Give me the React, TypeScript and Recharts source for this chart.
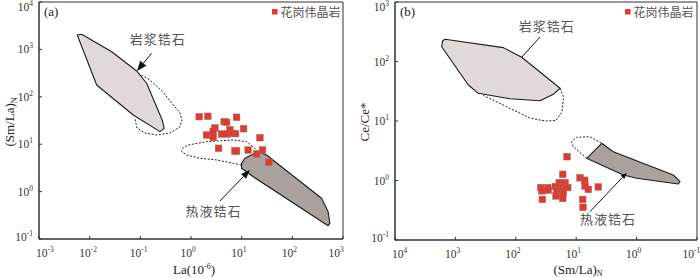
import React from 'react';
import { ScatterChart, Scatter, XAxis, YAxis, ReferenceArea, Label, Customized } from 'recharts';

const SERIF = "'Liberation Serif', 'Times New Roman', serif";
const CJK = "'Noto Sans CJK SC', 'Noto Sans CJK JP', sans-serif";
const RED = '#e23a2f';

// tick values
const laTicks = [0.001, 0.01, 0.1, 1, 10, 100, 1000];
const smLaTicksA = [0.1, 1, 10, 100, 1000, 10000];
const smLaTicksB = [0.1, 1, 10, 100, 1000, 10000];
const ceTicks = [0.1, 1, 10, 100, 1000];

const legendName = '花岗伟晶岩';

// (a) La (ppm) vs (Sm/La)N
const pegmatiteA: [number, number][] = [
  [1.45, 38.0], [2.15, 38.8], [7.93, 37.0], [4.52, 29.9], [5.04, 29.0],
  [2.96, 22.0], [2.74, 18.7], [10.9, 21.2], [5.85, 20.2], [2.03, 15.6],
  [2.74, 14.0], [4.02, 16.4], [5.18, 16.4], [6.41, 17.0], [7.59, 16.7],
  [22.9, 13.7], [3.5, 8.2], [7.35, 7.19], [7.93, 7.19], [13.4, 7.55],
  [25.8, 7.55], [19.7, 6.21], [34.4, 4.15],
];
const magmaticFieldA: [number, number][] = [
  [0.00569, 2014], [0.00695, 2084], [0.0272, 893], [0.0845, 350], [0.133, 193],
  [0.27, 32.4], [0.296, 21.6], [0.244, 18.4], [0.0724, 41.3], [0.01374, 177],
];
const magmaticDashA: [number, number][] = [
  [0.091, 313], [0.155, 226], [0.279, 126], [0.42, 74], [0.604, 45.5], [0.662, 32.4],
  [0.604, 23.1], [0.384, 17.2], [0.212, 15.6], [0.123, 17.2], [0.0857, 22.0], [0.078, 35.7],
];
const hydroFieldA: [number, number][] = [
  [9.95, 3.95], [11.6, 5.05], [21.1, 6.95], [31.0, 5.92], [377, 0.723],
  [508, 0.377], [550, 0.214], [508, 0.191], [16.9, 2.06], [9.95, 3.1],
];
const hydroDashA: [number, number][] = [
  [9.95, 3.64], [3.2, 4.65], [1.5, 5.05], [0.818, 5.92], [0.653, 6.95], [0.682, 8.18],
  [0.881, 9.62], [2.03, 11.3], [6.79, 12.3], [12.5, 11.3], [16.9, 8.85], [21.1, 6.95],
];
const magmaticArrowA: [number, number][] = [[0.167, 828], [0.0857, 350]];
const hydroArrowA: [number, number][] = [[3.72, 0.634], [14.5, 2.86]];
const labelsA = [
  { x: 0.222, y: 1738, text: '岩浆锆石' },
  { x: 2.77, y: 0.409, text: '热液锆石' },
];

// (b) (Sm/La)N vs Ce/Ce*
const pegmatiteB: [number, number][] = [
  [14.2, 2.51], [16.7, 1.27], [8.65, 1.11], [7.23, 1.01], [7.14, 0.81],
  [6.31, 0.71], [4.31, 0.78], [38.7, 0.76], [29.6, 0.76], [37.2, 0.67],
  [29.0, 0.69], [22.2, 0.79], [19.1, 0.92], [15.3, 0.92], [18.5, 0.79],
  [16.4, 0.79], [13.8, 0.76], [21.0, 0.67], [17.4, 0.69], [16.4, 0.61],
  [21.6, 0.55], [16.7, 0.5], [36.4, 0.48], [7.8, 0.48], [7.71, 0.355],
];
const magmaticFieldB: [number, number][] = [
  [1486, 236], [161, 171], [79.8, 118], [18.5, 35.5], [23.9, 28.1], [39.7, 21.9],
  [125, 23.7], [418, 29.2], [611, 40.3], [1687, 177], [1622, 224],
];
const magmaticDashB: [number, number][] = [
  [18.5, 35.5], [16.2, 25.3], [17.2, 14.2], [21.6, 10.2], [32.9, 10.0],
  [58.2, 11.2], [125, 16.3], [221, 21.7], [345, 26.9],
];
const hydroFieldB: [number, number][] = [
  [6.7, 2.36], [3.78, 4.22], [2.43, 3.05], [0.247, 1.24], [0.191, 0.955],
  [0.204, 0.873], [0.995, 1.09], [1.66, 1.24],
];
const hydroDashB: [number, number][] = [
  [6.7, 2.36], [11.2, 3.7], [11.9, 4.49], [9.82, 5.32], [5.92, 5.45], [3.78, 4.22],
];
const magmaticArrowB: [number, number][] = [[39.7, 258], [79.8, 118]];
const hydroArrowB: [number, number][] = [[5.92, 0.299], [1.46, 1.34]];
const labelsB = [
  { x: 30.8, y: 400, text: '岩浆锆石' },
  { x: 2.98, y: 0.234, text: '热液锆石' },
];

const xy = (arr: [number, number][]) => arr.map(([x, y]) => ({ x, y }));

const pathOf = (pts: any[], close: boolean) =>
  pts.map((p, i) => `${i === 0 ? 'M' : 'L'}${p.x},${p.y}`).join(' ') + (close ? ' Z' : '');

const fieldLine = (fill: string) => (p: any) => (
  <path d={pathOf(p.points, true)} fill={fill} stroke="#1c1c1c" strokeWidth={1.1} strokeLinejoin="round" />
);

const dashLine = (p: any) => (
  <path d={pathOf(p.points, false)} fill="none" stroke="#222" strokeWidth={1} strokeDasharray="2 1.6" />
);

const arrowLine = (hl: number, hw: number) => (p: any) => {
  const [a, b] = p.points;
  const dx = b.x - a.x;
  const dy = b.y - a.y;
  const len = Math.hypot(dx, dy) || 1;
  const ux = dx / len;
  const uy = dy / len;
  const bx = b.x - ux * hl;
  const by = b.y - uy * hl;
  return (
    <g>
      <line x1={a.x} y1={a.y} x2={hl ? bx : b.x} y2={hl ? by : b.y} stroke="#111" strokeWidth={1} />
      {hl > 0 && (
        <polygon
          points={`${b.x},${b.y} ${bx - uy * hw},${by + ux * hw} ${bx + uy * hw},${by - ux * hw}`}
          fill="#111"
        />
      )}
    </g>
  );
};

const hidden = () => <g />;

const square = (p: any) => (
  <rect x={p.cx - 3.3} y={p.cy - 3.3} width={6.6} height={6.6} fill={RED} stroke="#9b6b68" strokeWidth={0.5} />
);

const fieldLabel = (p: any) => (
  <text
    x={p.cx}
    y={p.cy}
    textAnchor="middle"
    dominantBaseline="central"
    fontFamily={CJK}
    fontSize={13}
    letterSpacing={1}
    fill="#555"
  >
    {p.payload?.text ?? p.text}
  </text>
);

const expOf = (v: number) => String(Math.round(Math.log10(v)));

const makeXTick = (axisY: number, left: number, right: number) => (p: any) => {
  const x = p.x;
  let bx = x + 1;
  if (Math.abs(x - left) < 1) bx = x + 8.5;
  if (Math.abs(x - right) < 1) bx = x - 3;
  return (
    <g>
      <line x1={x} y1={axisY} x2={x} y2={axisY - 3} stroke="#333" />
      <text x={bx} y={axisY + 18} textAnchor="end" fontFamily={SERIF} fontSize={11.5} fill="#333">
        10
      </text>
      <text x={bx} y={axisY + 13} fontFamily={SERIF} fontSize={7.5} fill="#333">
        {expOf(p.payload.value)}
      </text>
    </g>
  );
};

const makeYTick = (axisX: number, top: number, bottom: number) => (p: any) => {
  const y = p.y;
  let by = y + 4;
  if (by < top + 9) by = top + 9;
  if (by > bottom + 2) by = bottom + 2;
  return (
    <g>
      <line x1={axisX} y1={y} x2={axisX + 3} y2={y} stroke="#333" />
      <text x={axisX - 6} y={by} textAnchor="end" fontFamily={SERIF} fontSize={11.5} fill="#333">
        10
        <tspan dy={-5} fontSize={7.5}>
          {expOf(p.payload.value)}
        </tspan>
      </text>
    </g>
  );
};

const Corner = ({ tag, legendX }: { tag: string; legendX: number }) => (
  <g>
    <text x={tag === '(a)' ? 44 : 50} y={15.5} fontFamily={SERIF} fontSize={13} fill="#222">
      {tag}
    </text>
    <rect x={legendX} y={9} width={5.5} height={5.5} fill={RED} />
    <text x={legendX + 8.5} y={16.5} fontFamily={CJK} fontSize={12} fill="#555">
      {legendName}
    </text>
  </g>
);

const Panel = (props: {
  tag: string;
  legendX: number;
  yWidth: number;
  xHeight: number;
  right: number;
  xDomain: [number, number];
  yDomain: [number, number];
  xTicks: number[];
  yTicks: number[];
  reversed: boolean;
  xTitle: React.ReactNode;
  xTitleX: number;
  yTitle: React.ReactNode;
  yTitleX: number;
  points: [number, number][];
  magField: [number, number][];
  magDash: [number, number][];
  hydField: [number, number][];
  hydDash: [number, number][];
  magArrow: [number, number][];
  hydArrow: [number, number][];
  magHead: [number, number];
  hydHead: [number, number];
  labels: { x: number; y: number; text: string }[];
}) => {
  const W = 350;
  const H = 278;
  const top = 2;
  const left = props.yWidth;
  const bottom = H - props.xHeight;
  const plotRight = W - props.right;
  return (
    <ScatterChart width={W} height={H} margin={{ top, right: props.right, bottom: 0, left: 0 }}>
      <XAxis
        type="number"
        dataKey="x"
        scale="log"
        domain={props.xDomain}
        allowDataOverflow
        ticks={props.xTicks}
        interval={0}
        reversed={props.reversed}
        height={props.xHeight}
        axisLine={{ stroke: '#333' }}
        tickLine={false}
        tick={makeXTick(bottom, left, plotRight)}
      >
        <Label
          content={() => (
            <text x={props.xTitleX} y={274} textAnchor="middle" fontFamily={SERIF} fontSize={13} fill="#222">
              {props.xTitle}
            </text>
          )}
        />
      </XAxis>
      <YAxis
        type="number"
        dataKey="y"
        scale="log"
        domain={props.yDomain}
        allowDataOverflow
        ticks={props.yTicks}
        interval={0}
        width={props.yWidth}
        axisLine={{ stroke: '#333' }}
        tickLine={false}
        tick={makeYTick(left, top, bottom)}
      >
        <Label
          content={() => (
            <text
              transform="rotate(-90)"
              x={-122}
              y={props.yTitleX}
              textAnchor="middle"
              fontFamily={SERIF}
              fontSize={13}
              fill="#222"
            >
              {props.yTitle}
            </text>
          )}
        />
      </YAxis>
      <ReferenceArea
        x1={props.xDomain[0]}
        x2={props.xDomain[1]}
        y1={props.yDomain[0]}
        y2={props.yDomain[1]}
        fill="none"
        stroke="#333"
        strokeWidth={1}
        ifOverflow="visible"
      />
      <Scatter data={xy(props.magField)} shape={hidden} line={fieldLine('#e0d9d7')} isAnimationActive={false} />
      <Scatter data={xy(props.hydField)} shape={hidden} line={fieldLine('#aaa19e')} isAnimationActive={false} />
      <Scatter data={xy(props.magDash)} shape={hidden} line={dashLine} isAnimationActive={false} />
      <Scatter data={xy(props.hydDash)} shape={hidden} line={dashLine} isAnimationActive={false} />
      <Scatter data={xy(props.points)} shape={square} isAnimationActive={false} />
      <Scatter
        data={xy(props.magArrow)}
        shape={hidden}
        line={arrowLine(props.magHead[0], props.magHead[1])}
        isAnimationActive={false}
      />
      <Scatter
        data={xy(props.hydArrow)}
        shape={hidden}
        line={arrowLine(props.hydHead[0], props.hydHead[1])}
        isAnimationActive={false}
      />
      <Scatter data={props.labels} shape={fieldLabel} isAnimationActive={false} />
      <Customized component={<Corner tag={props.tag} legendX={props.legendX} />} />
    </ScatterChart>
  );
};

export default function App() {
  return (
    <div style={{ position: 'absolute', left: 0, top: 0, width: 700, height: 278, background: '#fff', display: 'flex' }}>
      <Panel
        tag="(a)"
        legendX={272}
        yWidth={39}
        xHeight={39}
        right={7}
        xDomain={[0.001, 1000]}
        yDomain={[0.1, 10000]}
        xTicks={laTicks}
        yTicks={smLaTicksA}
        reversed={false}
        xTitle={
          <>
            La(10
            <tspan dy={-5} fontSize={8}>
              -6
            </tspan>
            <tspan dy={5}>)</tspan>
          </>
        }
        xTitleX={194}
        yTitle={
          <>
            (Sm/La)
            <tspan dy={3} fontSize={8}>
              N
            </tspan>
          </>
        }
        yTitleX={14}
        points={pegmatiteA}
        magField={magmaticFieldA}
        magDash={magmaticDashA}
        hydField={hydroFieldA}
        hydDash={hydroDashA}
        magArrow={magmaticArrowA}
        hydArrow={hydroArrowA}
        magHead={[10, 4]}
        hydHead={[9, 3.5]}
        labels={labelsA}
      />
      <Panel
        tag="(b)"
        legendX={275}
        yWidth={45}
        xHeight={38}
        right={3}
        xDomain={[0.1, 10000]}
        yDomain={[0.1, 1000]}
        xTicks={smLaTicksB}
        yTicks={ceTicks}
        reversed={true}
        xTitle={
          <>
            (Sm/La)
            <tspan dy={2} fontSize={8}>
              N
            </tspan>
          </>
        }
        xTitleX={228}
        yTitle={<>Ce/Ce*</>}
        yTitleX={19}
        points={pegmatiteB}
        magField={magmaticFieldB}
        magDash={magmaticDashB}
        hydField={hydroFieldB}
        hydDash={hydroDashB}
        magArrow={magmaticArrowB}
        hydArrow={hydroArrowB}
        magHead={[0, 0]}
        hydHead={[6, 2.5]}
        labels={labelsB}
      />
    </div>
  );
}
